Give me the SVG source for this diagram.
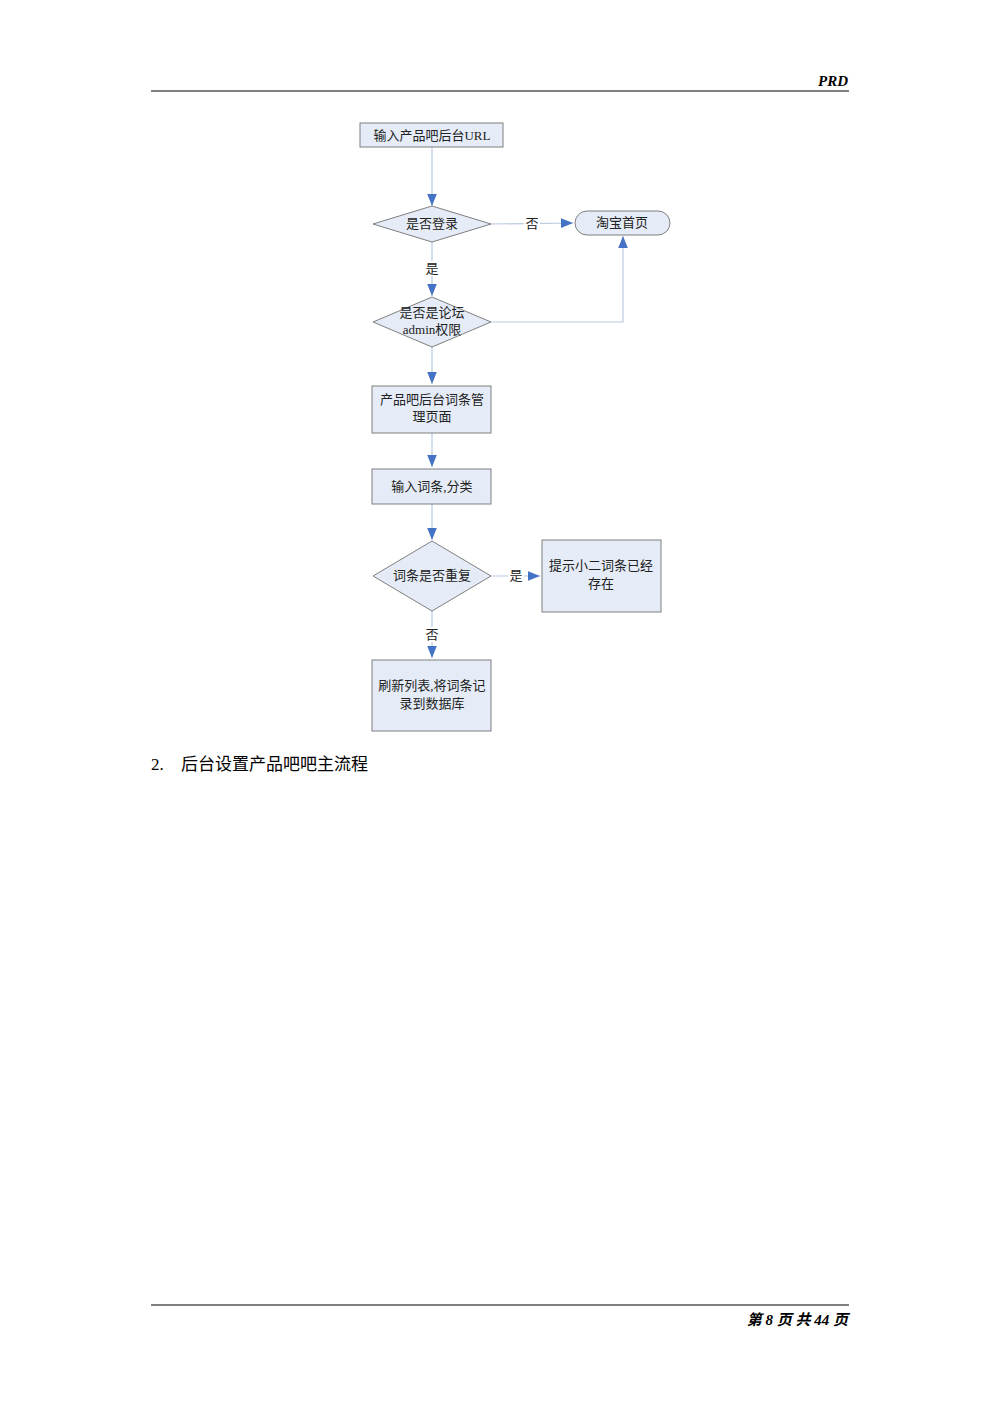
<svg xmlns="http://www.w3.org/2000/svg" width="1000" height="1415" viewBox="0 0 1000 1415">
<style>
.n{fill:#e5ecf7;stroke:#7f7f7f;stroke-width:1}
.t{font-family:"Liberation Serif","Noto Sans CJK SC",serif;font-size:13px;fill:#222;text-anchor:middle}
.c{stroke:#b8c9e0;stroke-width:1.2;fill:none}
.h{font-family:"Liberation Serif","Noto Sans CJK SC",serif;font-weight:bold;font-style:italic;font-size:15px;fill:#000}
</style>
<defs><marker id="a" viewBox="0 0 10 10" refX="10" refY="5" markerWidth="9" markerHeight="9" markerUnits="userSpaceOnUse" orient="auto"><path d="M0,0L10,5L0,10z" fill="#4472c4"/></marker>
<marker id="b" viewBox="0 0 10 10" refX="10" refY="5" markerWidth="12" markerHeight="12" markerUnits="userSpaceOnUse" orient="auto"><path d="M0,1L10,5L0,9z" fill="#4472c4"/></marker></defs>
<rect width="1000" height="1415" fill="#fff"/>
<text class="h" x="848" y="86" text-anchor="end">PRD</text>
<line x1="151" y1="91" x2="849" y2="91" stroke="#000" stroke-width="1.2"/>
<line x1="151" y1="1305" x2="849" y2="1305" stroke="#000" stroke-width="1"/>
<text class="h" x="848" y="1325" text-anchor="end" font-family="Liberation Serif,Noto Sans CJK SC,serif">第 8 页 共 44 页</text>
<g id="connectors">
<path class="c" d="M432,147V206" marker-end="url(#b)"/>
<path class="c" d="M491,224L573,223" marker-end="url(#b)"/>
<path class="c" d="M432,242V296" marker-end="url(#b)"/>
<path class="c" d="M491,322H623V236" marker-end="url(#b)"/>
<path class="c" d="M432,347V384" marker-end="url(#b)"/>
<path class="c" d="M432,433V467" marker-end="url(#b)"/>
<path class="c" d="M432,504V540" marker-end="url(#b)"/>
<path class="c" d="M491,576H540" marker-end="url(#b)"/>
<path class="c" d="M432,611V658" marker-end="url(#b)"/>
<rect x="524" y="216" width="16" height="15" fill="#fff"/><text class="t" x="532" y="228">否</text>
<rect x="424" y="261" width="16" height="15" fill="#fff"/><text class="t" x="432" y="273">是</text>
<rect x="508" y="568" width="16" height="15" fill="#fff"/><text class="t" x="516" y="580">是</text>
<rect x="424" y="627" width="16" height="15" fill="#fff"/><text class="t" x="432" y="639">否</text>
</g>
<g id="n1"><rect class="n" x="360" y="123" width="143" height="24"/><text class="t" x="432" y="140">输入产品吧后台URL</text></g>
<g id="n2"><path class="n" d="M373,224L432,206L491,224L432,242z"/><text class="t" x="432" y="228">是否登录</text></g>
<g id="n3"><rect class="n" x="575" y="211" width="95" height="24" rx="12"/><text class="t" x="622" y="227">淘宝首页</text></g>
<g id="n4"><path class="n" d="M373,322L432,297L491,322L432,347z"/><text class="t" x="432" y="317">是否是论坛</text><text class="t" x="432" y="334">admin权限</text></g>
<g id="n5"><rect class="n" x="372" y="386" width="119" height="47"/><text class="t" x="432" y="404">产品吧后台词条管</text><text class="t" x="432" y="421">理页面</text></g>
<g id="n6"><rect class="n" x="372" y="469" width="119" height="35"/><text class="t" x="432" y="491">输入词条,分类</text></g>
<g id="n7"><path class="n" d="M373,576L432,541L491,576L432,611z"/><text class="t" x="432" y="580">词条是否重复</text></g>
<g id="n8"><rect class="n" x="542" y="540" width="119" height="72"/><text class="t" x="601" y="570">提示小二词条已经</text><text class="t" x="601" y="588">存在</text></g>
<g id="n9"><rect class="n" x="372" y="660" width="119" height="71"/><text class="t" x="432" y="690">刷新列表,将词条记</text><text class="t" x="432" y="708">录到数据库</text></g>
<text x="151" y="770" font-family="Liberation Serif,Noto Sans CJK SC,serif" font-size="17" fill="#000">2.</text>
<text x="181" y="770" font-family="Liberation Serif,Noto Sans CJK SC,serif" font-size="17" fill="#000">后台设置产品吧吧主流程</text>
</svg>
